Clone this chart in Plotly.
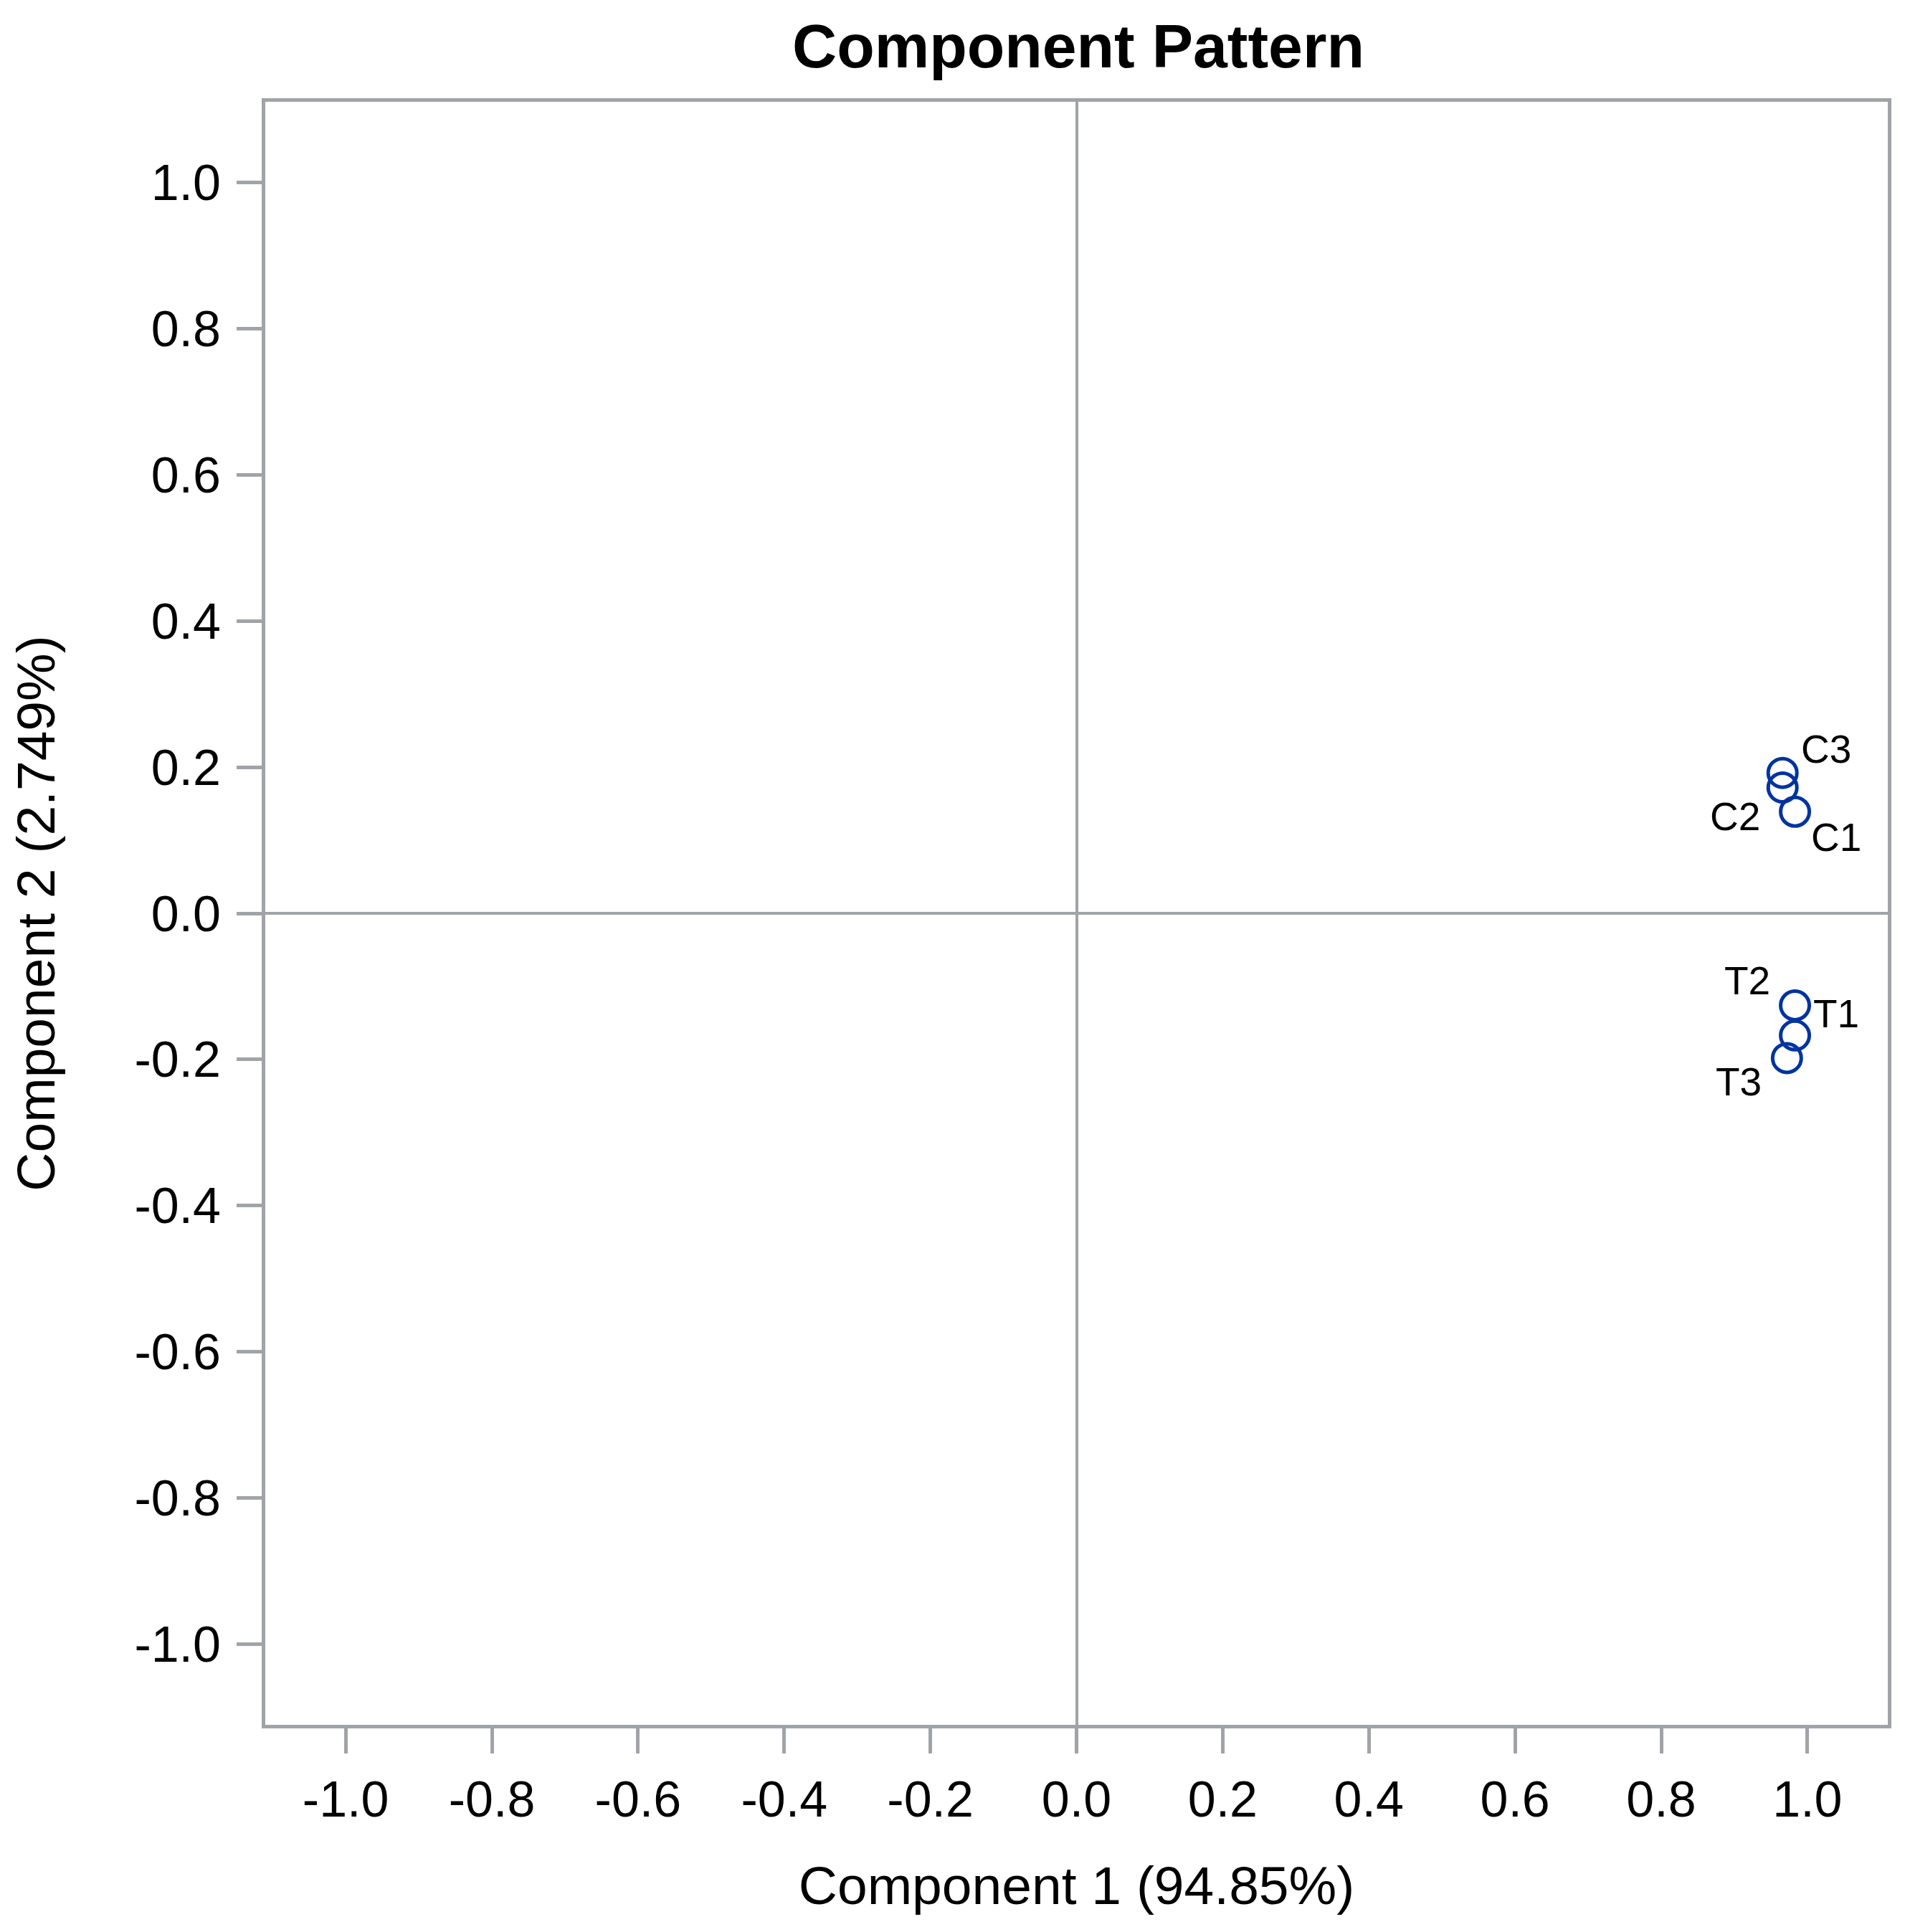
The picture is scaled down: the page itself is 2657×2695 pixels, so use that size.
import plotly.graph_objects as go

# component pattern loadings
names = ["C1", "C2", "C3", "T1", "T2", "T3"]
comp1 = [0.983, 0.966, 0.966, 0.983, 0.983, 0.972]
comp2 = [0.139, 0.172, 0.192, -0.167, -0.126, -0.198]

tick_vals = [-1.0, -0.8, -0.6, -0.4, -0.2, 0.0, 0.2, 0.4, 0.6, 0.8, 1.0]
tick_text = ["-1.0", "-0.8", "-0.6", "-0.4", "-0.2", "0.0", "0.2", "0.4", "0.6", "0.8", "1.0"]

# label offsets in pixels (dx, dy up)
label_shift = {
    "C1": (57, -36), "C2": (-66, -40), "C3": (61, 33),
    "T1": (57, 30), "T2": (-67, 35), "T3": (-67, -33),
}

grey = "#A0A4A9"
font = "Liberation Sans, Arial, sans-serif"

fig = go.Figure()
fig.add_trace(go.Scatter(
    x=comp1, y=comp2, mode="markers",
    marker=dict(symbol="circle-open", size=40, color="#0033A0",
                line=dict(width=5, color="#0033A0")),
    hovertext=names, showlegend=False,
))

for n, x, y in zip(names, comp1, comp2):
    dx, dy = label_shift[n]
    fig.add_annotation(x=x, y=y, text=n, showarrow=False,
                       xshift=dx, yshift=dy,
                       font=dict(family=font, size=55, color="black"))

axis_common = dict(
    range=[-1.11, 1.11], tickvals=tick_vals, ticktext=tick_text,
    showgrid=False, zeroline=True, zerolinecolor=grey, zerolinewidth=4,
    showline=True, linecolor=grey, linewidth=5, mirror=True,
    ticks="outside", ticklen=35, tickwidth=5, tickcolor=grey,
    tickfont=dict(family=font, size=70, color="black"),
    title_font=dict(family=font, size=75, color="black"),
)

fig.update_xaxes(**axis_common, title_text="Component 1 (94.85%)",
                 ticklabelstandoff=4, title_standoff=57)
fig.update_yaxes(**axis_common, title_text="Component 2 (2.749%)",
                 ticklabelstandoff=8, title_standoff=90)

fig.update_layout(
    width=2657, height=2695,
    margin=dict(l=362, r=32, t=134, b=297),
    plot_bgcolor="white", paper_bgcolor="white",
    title=dict(text="<b>Component Pattern</b>", x=1496 / 2657, xanchor="center",
               y=1 - 56 / 2695, yanchor="middle", yref="container",
               font=dict(family=font, size=86, color="black")),
)

fig.write_html("out.html")
